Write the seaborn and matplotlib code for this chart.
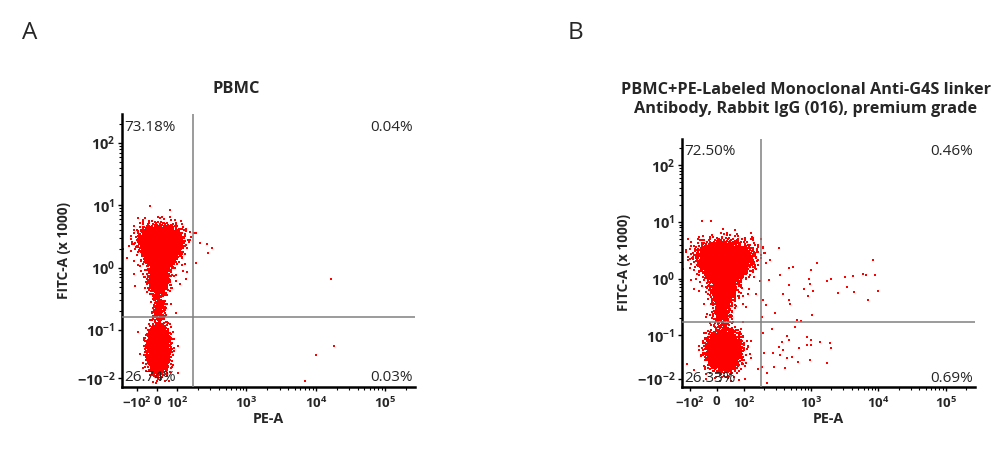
import numpy as np
import pandas as pd
import seaborn as sns
import matplotlib
matplotlib.use("Agg")
import matplotlib.pyplot as plt

# ---- data (PE-A raw units, FITC-A in x1000 units) ----
# cell populations: centre, spread (decades of display), count,
# and how much wider the population gets towards its top
a_center_x = [18, 8, 10, 8, 15, 8]
a_center_y = [2.1, 0.65, 0.22, 0.057, 1.6, 0.06]
a_sd_x = [0.12, 0.08, 0.05, 0.07, 0.22, 0.13]
a_sd_y = [0.15, 0.15, 0.12, 0.17, 0.30, 0.25]
a_widen = [0.15, 0.1, 0.0, 0.0, 0.1, 0.0]
a_count = [3900, 500, 140, 2300, 160, 70]

b_center_x = [31, 25, 20, 27, 30, 30]
b_center_y = [1.9, 0.6, 0.24, 0.063, 1.6, 0.06]
b_sd_x = [0.16, 0.10, 0.07, 0.11, 0.26, 0.19]
b_sd_y = [0.16, 0.15, 0.12, 0.16, 0.32, 0.28]
b_widen = [0.15, 0.1, 0.0, 0.0, 0.1, 0.0]
b_count = [4300, 550, 180, 2300, 220, 130]

# single events outside the main populations
a_events_x = [188, 271, 280, 16700, 18400, 10100, 7030]
a_events_y = [3.6, 2.4, 1.72, 0.66, 0.064, 0.043, -0.016]

b_events_x = [245, 237, 470, 539, 1220, 8300, 1000, 930, 960, 470, 785, 1070, 900, 383,
              470, 486, 1720, 1970, 3180, 4190, 5890, 6530, 8870, 3410, 4330, 2510, 9840,
              6990, 291, 1030, 708, 618,
              263, 577, 439, 370, 334, 383, 272, 470, 661, 869, 1000, 869, 1000, 1910, 1970,
              1360, 521, 439, 640, 410, 282, 1720, 960, 222, 222, 346,
              193, 207, 193, 214, 187, 193, 200, 187]
b_events_y = [2.14, 0.95, 1.55, 1.6, 1.9, 2.14, 1.42, 0.99, 0.81, 0.77, 0.66, 0.61, 0.50, 0.54,
              0.42, 0.36, 0.91, 0.99, 1.07, 1.12, 1.21, 1.16, 1.16, 0.71, 0.58, 0.56, 0.61,
              0.42, 0.25, 0.23, 0.18, 0.19,
              0.13, 0.14, 0.098, 0.083, 0.071, 0.063, 0.056, 0.088, 0.068, 0.096, 0.088, 0.076,
              0.076, 0.081, 0.068, 0.083, 0.046, 0.043, 0.033, 0.018, 0.020, 0.030, 0.038,
              0.005, -0.020, 0.051,
              3.6, 2.84, 0.42, 0.34, 0.21, 0.11, 0.056, 0.02]

gate_x = [170, 181]
gate_y = [0.163, 0.172]
quadrant_a = ["73.18%", "0.04%", "26.74%", "0.03%"]
quadrant_b = ["72.50%", "0.46%", "26.33%", "0.69%"]

x_ticks = [-100, 0, 100, 1000, 10000, 100000]
x_labels = [r"$-10^{2}$", r"$0$", r"$10^{2}$", r"$10^{3}$", r"$10^{4}$", r"$10^{5}$"]
y_ticks = [-0.01, 0.1, 1, 10, 100]
y_labels = [r"$-10^{-2}$", r"$10^{-1}$", r"$10^{0}$", r"$10^{1}$", r"$10^{2}$"]


def halton(idx, base):
    idx = idx.copy()
    f = np.ones(len(idx))
    r = np.zeros(len(idx))
    while idx.any():
        f /= base
        r += f * (idx % base)
        idx //= base
    return r


def population(ax, cx, cy, sx, sy, widen, n, start):
    # spread the events of one population evenly (Halton + Box-Muller) in display space
    idx = np.arange(start, start + n)
    u1 = halton(idx, 2)
    u2 = halton(idx, 3)
    rad = np.minimum(np.sqrt(-2 * np.log(u1)), 3.3)
    z1 = rad * np.cos(2 * np.pi * u2)
    z2 = rad * np.sin(2 * np.pi * u2)
    z1 = z1 * np.clip(1 + widen * z2, 0.4, None)
    tx = ax.xaxis.get_transform()
    ty = ax.yaxis.get_transform()
    xs = tx.transform(np.array([cx], float))[0] + z1 * sx * tx.linthresh
    ys = ty.transform(np.array([cy], float))[0] + z2 * sy * ty.linthresh
    return tx.inverted().transform(xs), ty.inverted().transform(ys)


sns.set_style("ticks")
plt.rcParams["font.family"] = ["Open Sans", "DejaVu Sans"]
plt.rcParams["mathtext.fontset"] = "custom"
plt.rcParams["mathtext.rm"] = "Open Sans:bold"
plt.rcParams["mathtext.it"] = "Open Sans:bold"
plt.rcParams["mathtext.bf"] = "Open Sans:bold"
plt.rcParams["mathtext.default"] = "rm"

fig = plt.figure(figsize=(10, 4.55), dpi=100)
ax_a = fig.add_axes([0.122, 0.1495, 0.293, 0.60])
ax_b = fig.add_axes([0.682, 0.1495, 0.293, 0.545])

panels = [
    (ax_a, a_center_x, a_center_y, a_sd_x, a_sd_y, a_widen, a_count, a_events_x, a_events_y,
     0.26, -165, gate_x[0], gate_y[0], quadrant_a),
    (ax_b, b_center_x, b_center_y, b_sd_x, b_sd_y, b_widen, b_count, b_events_x, b_events_y,
     0.36, -130, gate_x[1], gate_y[1], quadrant_b),
]

for (ax, cxs, cys, sxs, sys_, wds, ns, ex, ey, linscale, xmin, gx, gy, quads) in panels:
    ax.set_xscale("symlog", linthresh=100, linscale=linscale)
    ax.set_yscale("symlog", linthresh=0.1, linscale=0.63)
    px, py = [], []
    start = 1
    for cx, cy, sx, sy, wd, n in zip(cxs, cys, sxs, sys_, wds, ns):
        x, y = population(ax, cx, cy, sx, sy, wd, n, start)
        px.append(x)
        py.append(y)
        start += n + 17
    df = pd.DataFrame({"PE-A": np.concatenate(px + [np.array(ex, float)]),
                       "FITC-A": np.concatenate(py + [np.array(ey, float)])})
    sns.scatterplot(data=df, x="PE-A", y="FITC-A", color="#ff0000", s=1.2, marker="s",
                    linewidth=0, ax=ax, legend=False, zorder=2)
    ax.set_xlim(xmin, 270000)
    ax.set_ylim(-0.03, 290)
    ax.axvline(gx, color="#808080", lw=1.1, zorder=3)
    ax.axhline(gy, color="#808080", lw=1.1, zorder=3)

    ax.set_xticks(x_ticks)
    ax.set_xticklabels(x_labels)
    ax.set_yticks(y_ticks)
    ax.set_yticklabels(y_labels)
    ax.set_xticks([m * 10 ** d for d in (2, 3, 4) for m in range(2, 10)] + [200000], minor=True)
    ax.set_yticks([m * 10.0 ** d for d in (-1, 0, 1) for m in range(2, 10)] + [200], minor=True)
    ax.tick_params(axis="both", which="major", length=3, width=1, labelsize=10.5, color="black")
    ax.tick_params(axis="x", which="major", labelsize=9.5)
    ax.tick_params(axis="both", which="minor", length=2, width=0.8, color="black")
    ax.tick_params(axis="x", pad=3)
    ax.tick_params(axis="y", pad=2)
    for side in ("top", "right"):
        ax.spines[side].set_visible(False)
    for side in ("left", "bottom"):
        ax.spines[side].set_linewidth(1.8)
        ax.spines[side].set_color("black")

    ax.set_xlabel("PE-A", fontsize=10.3, fontweight="bold", labelpad=1)
    ax.set_ylabel("FITC-A (x 1000)", fontsize=9.8, fontweight="bold", labelpad=4)

    ax.text(0.007, 0.95, quads[0], transform=ax.transAxes, ha="left", va="center", fontsize=11)
    ax.text(0.993, 0.95, quads[1], transform=ax.transAxes, ha="right", va="center", fontsize=11)
    ax.text(0.007, 0.034, quads[2], transform=ax.transAxes, ha="left", va="center", fontsize=11)
    ax.text(0.993, 0.034, quads[3], transform=ax.transAxes, ha="right", va="center", fontsize=11)

fig.text(0.236, 1 - 89 / 455, "PBMC", ha="center", va="center", fontsize=11.8, fontweight="bold")
fig.text(0.806, 1 - 99.5 / 455,
         "PBMC+PE-Labeled Monoclonal Anti-G4S linker\nAntibody, Rabbit IgG (016), premium grade",
         ha="center", va="center", fontsize=11.7, fontweight="bold", linespacing=1.2)
fig.text(0.030, 1 - 33 / 455, "A", ha="center", va="center", fontsize=17.5)
fig.text(0.575, 1 - 33 / 455, "B", ha="center", va="center", fontsize=17.5)

fig.savefig("out.png", dpi=100, facecolor="white")
